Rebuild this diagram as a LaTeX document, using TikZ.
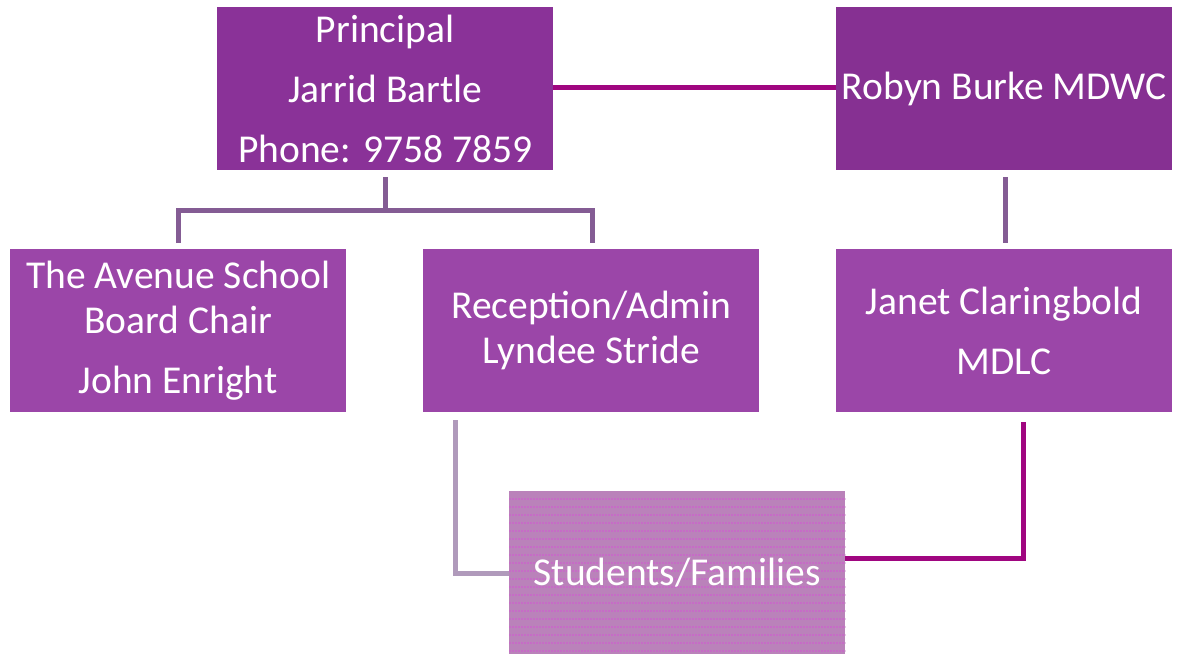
\documentclass[tikz,border=0pt]{standalone}
\usepackage{fontspec}
\setmainfont{Carlito}
\definecolor{topbox}{RGB}{138,50,152}
\definecolor{topbox2}{RGB}{134,48,146}
\definecolor{midbox}{RGB}{155,70,168}
\definecolor{stubox}{RGB}{186,130,186}
\definecolor{stustripe}{RGB}{198,108,198}
\definecolor{linemag}{RGB}{160,6,128}
\definecolor{linegray}{RGB}{132,92,148}
\definecolor{linelight}{RGB}{176,154,187}
\begin{document}
\begin{tikzpicture}[x=1pt,y=-1pt,
  box/.style={minimum width=336pt,minimum height=163pt,inner sep=0pt,
    text=white,align=center,font=\fontsize{39.5}{45}\selectfont},
  conn/.style={line width=5pt,line cap=butt,line join=miter}]
\useasboundingbox (0,0) rectangle (1182,653);
\fill[white] (0,0) rectangle (1182,653);
\node[box,fill=topbox,anchor=north west] (prin) at (217,7) {Principal\\[15pt]Jarrid Bartle\\[15pt]Phone: 9758 7859};
\node[box,fill=topbox2,anchor=north west] (robyn) at (836,7) {Robyn Burke MDWC};
\node[box,fill=midbox,anchor=north west] (board) at (10,249) {The Avenue School\\Board Chair\\[15pt]John Enright};
\node[box,fill=midbox,anchor=north west] (recep) at (423,249) {Reception/Admin\\Lyndee Stride};
\node[box,fill=midbox,anchor=north west] (janet) at (836,249) {Janet Claringbold\\[15pt]MDLC};
\node[box,fill=stubox,anchor=north west] (stud) at (509,491) {};
\begin{scope}
\clip (stud.north west) rectangle (stud.south east);
\foreach \y in {499,507,...,653} {
  \draw[stustripe,line width=1.8pt,dash pattern=on 2pt off 1pt] (stud.west |- 0,\y) -- (stud.east |- 0,\y);
}
\end{scope}
\node[text=white,font=\fontsize{39.5}{45}\selectfont] (studtext) at (stud.center) {Students/Families};
% connectors
\coordinate (pb) at (385,177);
\coordinate (pm) at (385,210);
\coordinate (bl) at (178,210);
\coordinate (bt) at (178,243);
\coordinate (rr) at (592,210);
\coordinate (rt) at (592,243);
\draw[conn,linemag] (prin.east |- 0,87) -- (robyn.west |- 0,87);
\draw[conn,linegray] (pb) -- (pm);
\draw[conn,linegray] (bt) -- (bl) -- (rr) -- (rt);
\draw[conn,linegray] (1005,177) -- (1005,243);
\draw[conn,linelight] (455,420) -- (455,573) -- (stud.west |- 0,573);
\draw[conn,linemag] (1023,422) -- (1023,558) -- (stud.east |- 0,558);
\end{tikzpicture}
\end{document}
